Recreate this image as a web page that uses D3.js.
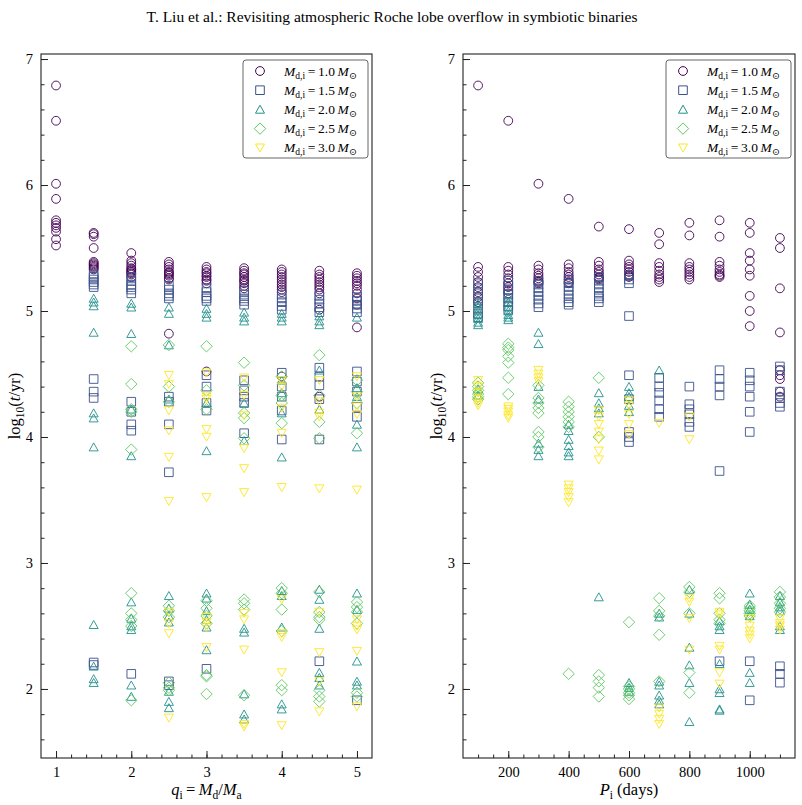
<!DOCTYPE html>
<html>
<head>
<meta charset="utf-8">
<script src="https://cdn.jsdelivr.net/npm/d3@7"></script>
<style>
  body { margin: 0; background: #fff; }
  svg { display: block; }
  text { font-family: "Liberation Serif", "Times New Roman", "DejaVu Serif", serif; fill: #000; }
</style>
</head>
<body>
<svg id="chart" width="802" height="805"></svg>
<script>
// ---- data ----
const qValues = [1, 1.5, 2, 2.5, 3, 3.5, 4, 4.5, 5];
const periods = [100, 200, 300, 400, 500, 600, 700, 800, 900, 1000, 1100];
const massLabels = ["1.0", "1.5", "2.0", "2.5", "3.0"];

// left panel: log10(t/yr) for each q_i, one array per donor mass
const qM10 = [
  [6.79, 6.51, 6.01, 5.89, 5.72, 5.70, 5.68, 5.66, 5.63, 5.57, 5.52],
  [5.62, 5.61, 5.59, 5.50, 5.39, 5.38, 5.37, 5.36, 5.35, 5.34, 5.33],
  [5.46, 5.40, 5.38, 5.36, 5.34, 5.33, 5.32, 5.31, 5.30, 5.29, 5.27],
  [5.39, 5.37, 5.35, 5.33, 5.31, 5.30, 5.29, 5.28, 5.26, 5.25, 4.82],
  [5.35, 5.33, 5.31, 5.30, 5.28, 5.27, 5.25, 5.24, 5.22, 4.52],
  [5.34, 5.32, 5.30, 5.29, 5.27, 5.25, 5.24, 5.22, 5.20, 5.18],
  [5.33, 5.31, 5.29, 5.27, 5.25, 5.23, 5.21, 5.19, 5.17, 5.15, 4.48],
  [5.32, 5.29, 5.27, 5.25, 5.23, 5.21, 5.19, 5.17, 5.14, 5.01, 4.32],
  [5.30, 5.28, 5.26, 5.24, 5.22, 5.20, 5.17, 5.14, 5.10, 5.05, 4.87]
];
const qM15 = [
  [],
  [5.29, 5.27, 5.25, 5.23, 5.21, 5.19, 4.46, 4.36, 4.31, 2.21, 2.19],
  [5.27, 5.24, 5.21, 5.19, 5.17, 5.14, 4.28, 4.20, 4.10, 4.05, 2.12],
  [5.20, 5.17, 5.14, 5.12, 5.10, 4.32, 4.28, 4.10, 3.72, 2.06, 2.03],
  [5.18, 5.15, 5.12, 5.10, 5.08, 4.49, 4.40, 4.27, 4.21, 2.16],
  [5.16, 5.13, 5.10, 5.08, 5.05, 4.45, 4.37, 4.32, 4.27, 4.03],
  [5.13, 5.10, 5.07, 5.04, 5.01, 4.51, 4.40, 4.32, 4.21, 3.98],
  [5.12, 5.09, 5.06, 5.03, 4.99, 4.55, 4.48, 4.41, 4.30, 3.98, 2.22],
  [5.11, 5.08, 5.05, 5.02, 4.99, 4.52, 4.44, 4.36, 4.24, 4.16, 1.91]
];
const qM20 = [
  [],
  [5.10, 5.07, 5.04, 4.83, 4.19, 4.15, 3.92, 2.51, 2.18, 2.08, 2.05],
  [5.06, 5.03, 4.82, 4.22, 3.85, 2.69, 2.56, 2.50, 2.47, 2.03, 1.94],
  [5.03, 4.98, 4.73, 4.30, 2.74, 2.64, 2.58, 2.53, 1.98, 1.90, 1.85],
  [5.02, 4.98, 4.95, 4.27, 3.89, 2.76, 2.72, 2.62, 2.55, 2.49, 2.31],
  [4.99, 4.95, 4.92, 4.27, 3.97, 2.48, 2.45, 1.96, 1.80, 1.76],
  [4.98, 4.95, 4.92, 4.45, 4.35, 4.19, 3.84, 2.78, 2.74, 2.49, 1.88, 1.84],
  [4.96, 4.92, 4.89, 4.53, 4.22, 2.79, 2.71, 2.48, 2.13, 2.09, 2.03],
  [4.95, 4.39, 4.32, 4.10, 3.92, 2.76, 2.63, 2.22, 2.06, 2.03]
];
const qM25 = [
  [],
  [],
  [4.72, 4.42, 4.22, 4.20, 3.90, 2.76, 2.60, 2.55, 2.50, 1.91],
  [4.73, 4.40, 4.28, 2.66, 2.62, 2.57, 2.05, 2.01, 1.99],
  [4.72, 4.37, 4.22, 2.70, 2.64, 2.58, 2.52, 2.11, 2.10, 1.96],
  [4.59, 4.41, 4.19, 4.15, 3.99, 2.71, 2.68, 2.63, 1.95],
  [4.48, 4.33, 4.27, 4.11, 2.80, 2.76, 2.63, 2.46, 2.03, 1.99],
  [4.65, 4.33, 4.12, 3.99, 2.77, 2.61, 2.57, 2.55, 1.99, 1.94, 1.90],
  [4.45, 4.36, 4.27, 4.03, 2.69, 2.65, 2.61, 2.52, 1.97, 1.94]
];
const qM30 = [
  [],
  [],
  [],
  [4.49, 4.42, 4.21, 4.05, 3.84, 3.49, 2.61, 2.52, 2.44, 1.77],
  [4.51, 4.32, 4.30, 4.06, 4.00, 3.52, 2.57, 2.53, 2.49, 2.33],
  [4.47, 4.33, 4.17, 3.91, 3.75, 3.56, 2.60, 2.55, 2.31, 1.72, 1.70],
  [4.45, 4.40, 4.23, 4.03, 3.60, 2.71, 2.44, 2.41, 2.13, 1.71],
  [4.45, 4.28, 4.19, 4.16, 3.59, 2.61, 2.29, 2.06, 1.82],
  [4.48, 4.32, 4.24, 4.18, 3.58, 2.55, 2.50, 2.47, 2.30, 1.86]
];

// right panel: log10(t/yr) for each P_i
const pM10 = [
  [6.79, 5.35, 5.31, 5.27, 5.23, 5.19, 5.15, 5.11, 5.07],
  [6.51, 5.35, 5.32, 5.29, 5.26, 5.22, 5.19, 5.16, 5.14],
  [6.01, 5.36, 5.33, 5.30, 5.28, 5.26, 5.24, 5.23, 5.22],
  [5.89, 5.37, 5.34, 5.31, 5.29, 5.27, 5.25, 5.23, 5.22],
  [5.67, 5.39, 5.36, 5.33, 5.31, 5.29, 5.27, 5.26, 5.25],
  [5.65, 5.40, 5.37, 5.35, 5.33, 5.31, 5.29, 5.28, 5.27],
  [5.62, 5.53, 5.38, 5.35, 5.32, 5.29, 5.27, 5.25, 5.23],
  [5.70, 5.60, 5.38, 5.35, 5.33, 5.31, 5.29, 5.27, 5.25],
  [5.72, 5.59, 5.39, 5.36, 5.33, 5.31, 5.29, 5.28, 5.27],
  [5.70, 5.62, 5.46, 5.40, 5.33, 5.28, 5.12, 5.00, 4.88],
  [5.58, 5.50, 5.18, 4.83, 4.53, 4.49, 4.46, 4.36, 4.32]
];
const pM15 = [
  [5.22, 5.18, 5.14, 5.10, 5.06, 5.02, 4.98, 4.95],
  [5.24, 5.20, 5.17, 5.13, 5.10, 5.07, 5.04, 5.01],
  [5.24, 5.21, 5.18, 5.15, 5.12, 5.09, 5.06, 5.03],
  [5.25, 5.22, 5.19, 5.16, 5.13, 5.10, 5.07, 5.05],
  [5.27, 5.24, 5.21, 5.18, 5.15, 5.12, 5.10, 5.07],
  [5.28, 5.25, 5.22, 4.96, 4.49, 4.30, 4.04, 4.00, 3.96],
  [4.47, 4.40, 4.35, 4.29, 4.22, 4.16],
  [4.40, 4.26, 4.22, 4.18, 4.12, 4.08],
  [4.53, 4.46, 4.40, 4.33, 3.73, 2.22],
  [4.51, 4.45, 4.40, 4.32, 4.20, 4.04, 2.22, 1.91],
  [4.56, 4.53, 4.36, 4.31, 4.27, 4.24, 2.18, 2.12, 2.05]
];
const pM20 = [
  [5.06, 5.03, 5.00, 4.97, 4.94, 4.91, 4.89, 4.38, 4.33],
  [5.11, 5.07, 5.03, 5.00, 4.97, 4.95, 4.93],
  [4.83, 4.74, 4.40, 4.30, 3.95, 3.90, 3.85],
  [4.10, 4.05, 3.98, 3.93, 3.88, 3.85],
  [4.35, 4.27, 4.23, 4.19, 2.73],
  [4.40, 4.35, 4.32, 4.25, 4.20, 2.05, 2.01, 1.98],
  [4.53, 2.60, 2.57, 2.06, 2.03, 1.95, 1.91, 1.88],
  [2.79, 2.60, 2.33, 2.19, 2.05, 1.74],
  [2.54, 2.50, 2.47, 2.20, 2.00, 1.97, 1.84, 1.83],
  [2.76, 2.67, 2.63, 2.58, 2.13, 2.05],
  [2.74, 2.69, 2.65, 2.62, 2.50, 2.47]
];
const pM25 = [
  [4.43, 4.40, 4.37, 4.34, 4.32, 4.30],
  [4.74, 4.71, 4.69, 4.64, 4.59, 4.47, 4.34],
  [4.41, 4.31, 4.27, 4.23, 4.19, 4.04, 4.00, 3.92],
  [4.28, 4.24, 4.20, 4.16, 4.12, 4.08, 2.12],
  [4.47, 4.00, 2.11, 2.06, 2.01, 1.94],
  [2.53, 2.02, 2.00, 1.97, 1.95, 1.92],
  [2.72, 2.62, 2.58, 2.43, 2.06],
  [2.81, 2.77, 2.60, 2.13, 1.97],
  [2.76, 2.72, 2.60, 2.55, 2.52],
  [2.66, 2.64, 2.62, 2.60, 2.58],
  [2.77, 2.73, 2.68, 2.64, 2.61]
];
const pM30 = [
  [4.45, 4.40, 4.35, 4.30, 4.27, 4.25],
  [4.24, 4.22, 4.20, 4.17, 4.15],
  [4.53, 4.50, 4.47, 4.44],
  [3.62, 3.59, 3.56, 3.52, 3.48],
  [4.21, 4.16, 4.10, 4.04, 3.98, 3.89, 3.82],
  [4.29, 4.25, 4.18, 4.10, 4.02],
  [4.11, 1.85, 1.80, 1.76, 1.72],
  [4.16, 3.98, 2.72, 2.69, 2.56, 2.31],
  [2.61, 2.59, 2.34, 2.31, 2.13, 2.04],
  [2.56, 2.50, 2.46, 2.43, 2.40],
  [2.56, 2.52, 2.50, 2.47]
];

// ---- styling ----
const colors = ['#440154', '#3b528b', '#21918c', '#5ec962', '#fde725'];
const serif = '"Liberation Serif", "Times New Roman", serif';
const svg = d3.select('#chart');
const plotTop = 54, plotBottom = 758;

// marker shapes like matplotlib o, s, ^, D, v
function markerPath(k) {
  if (k === 0) {
    const p = d3.path();
    p.arc(0, 0, 4.4, 0, 2 * Math.PI);
    return p.toString();
  }
  if (k === 1) return 'M-4.3,-4.3H4.3V4.3H-4.3Z';
  if (k === 2) return 'M0,-4.2L4.5,3.8L-4.5,3.8Z';
  if (k === 3) return 'M0,-5.7L5.7,0L0,5.7L-5.7,0Z';
  return 'M0,4.2L4.5,-3.8L-4.5,-3.8Z';
}

const yScale = d3.scaleLinear().domain([1.452, 7.04]).range([plotBottom, plotTop]);

function flatten(xs, series) {
  const pts = [];
  series.forEach((arr, m) => {
    arr.forEach((ys, i) => ys.forEach(y => pts.push({ x: xs[i], y: y, m: m })));
  });
  return pts;
}

function drawPanel(opts) {
  const x = d3.scaleLinear().domain(opts.domain).range([opts.left, opts.right]);
  const g = svg.append('g');

  // points
  g.selectAll('path.pt')
    .data(flatten(opts.xs, opts.series))
    .enter()
    .append('path')
    .attr('class', 'pt')
    .attr('d', d => markerPath(d.m))
    .attr('transform', d => `translate(${x(d.x)},${yScale(d.y)})`)
    .attr('fill', 'none')
    .attr('stroke', d => colors[d.m])
    .attr('stroke-opacity', 0.9)
    .attr('stroke-width', 1);

  // y axis, ticks pointing inwards
  g.append('g')
    .attr('transform', `translate(${opts.left},0)`)
    .call(d3.axisLeft(yScale).tickValues(d3.range(1.6, 7.01, 0.2)).tickSize(-3.5).tickFormat(''))
    .call(a => a.select('.domain').remove());
  g.append('g')
    .attr('transform', `translate(${opts.left},0)`)
    .call(d3.axisLeft(yScale).tickValues([2, 3, 4, 5, 6, 7]).tickSize(-7).tickPadding(8).tickFormat(d3.format('d')))
    .call(a => a.select('.domain').remove())
    .call(a => a.selectAll('text').style('font-size', '14.5px').style('font-family', serif));

  // x axis
  g.append('g')
    .attr('transform', `translate(0,${plotBottom})`)
    .call(d3.axisBottom(x).tickValues(opts.minor).tickSize(-3.5).tickFormat(''))
    .call(a => a.select('.domain').remove());
  g.append('g')
    .attr('transform', `translate(0,${plotBottom})`)
    .call(d3.axisBottom(x).tickValues(opts.major).tickSize(-7).tickPadding(9).tickFormat(d3.format('d')))
    .call(a => a.select('.domain').remove())
    .call(a => a.selectAll('text').style('font-size', '14.5px').style('font-family', serif));

  g.selectAll('.tick line').attr('stroke', '#222');

  // frame
  g.append('rect')
    .attr('x', opts.left).attr('y', plotTop)
    .attr('width', opts.right - opts.left).attr('height', plotBottom - plotTop)
    .attr('fill', 'none').attr('stroke', '#222').attr('stroke-width', 1.1);

  // y label: log10(t/yr)
  const yl = g.append('text')
    .attr('transform', `translate(${opts.left - 21},${(plotTop + plotBottom) / 2}) rotate(-90)`)
    .attr('text-anchor', 'middle')
    .style('font-size', '16.5px');
  yl.append('tspan').text('log');
  yl.append('tspan').attr('dy', 4).style('font-size', '11.5px').text('10');
  yl.append('tspan').attr('dy', -4).text('(');
  yl.append('tspan').style('font-style', 'italic').text('t');
  yl.append('tspan').text('/yr)');

  // x label
  const xl = g.append('text')
    .attr('x', (opts.left + opts.right) / 2)
    .attr('y', 795)
    .attr('text-anchor', 'middle')
    .style('font-size', '16.5px');
  opts.xlabel(xl);

  // legend
  const lg = g.append('g').attr('transform', `translate(${opts.right - 129},60)`);
  lg.append('rect')
    .attr('width', 125).attr('height', 98).attr('rx', 3)
    .attr('fill', '#fff').attr('fill-opacity', 0.8)
    .attr('stroke', '#666').attr('stroke-width', 1);
  massLabels.forEach((lab, i) => {
    const row = lg.append('g').attr('transform', `translate(0,${11 + i * 19.2})`);
    row.append('path')
      .attr('d', markerPath(i))
      .attr('transform', 'translate(17,0)')
      .attr('fill', 'none').attr('stroke', colors[i]).attr('stroke-width', 1);
    const t = row.append('text').attr('x', 41).attr('y', 4.5).style('font-size', '13.5px');
    t.append('tspan').style('font-style', 'italic').text('M');
    t.append('tspan').attr('dy', 3).style('font-size', '9.5px').text('d,i');
    t.append('tspan').attr('dy', -3).text('\u2009=\u20091.0'.replace('1.0', lab));
    t.append('tspan').style('font-style', 'italic').text('\u2009M');
    t.append('tspan').attr('dy', 3).style('font-size', '9.5px').text('\u2299');
  });
}

// title
svg.append('text')
  .attr('x', 392).attr('y', 22)
  .attr('text-anchor', 'middle')
  .style('font-size', '15.5px')
  .text('T. Liu et al.: Revisiting atmospheric Roche lobe overflow in symbiotic binaries');

drawPanel({
  left: 41, right: 372, domain: [0.8, 5.2],
  xs: qValues, series: [qM10, qM15, qM20, qM25, qM30],
  major: [1, 2, 3, 4, 5], minor: d3.range(1, 5.01, 0.2),
  xlabel: t => {
    t.append('tspan').style('font-style', 'italic').text('q');
    t.append('tspan').attr('dy', 4).style('font-size', '11.5px').text('i');
    t.append('tspan').attr('dy', -4).text('\u2009=\u2009');
    t.append('tspan').style('font-style', 'italic').text('M');
    t.append('tspan').attr('dy', 4).style('font-size', '11.5px').text('d');
    t.append('tspan').attr('dy', -4).text('/');
    t.append('tspan').style('font-style', 'italic').text('M');
    t.append('tspan').attr('dy', 4).style('font-size', '11.5px').text('a');
  }
});

drawPanel({
  left: 463, right: 795, domain: [50, 1150],
  xs: periods, series: [pM10, pM15, pM20, pM25, pM30],
  major: [200, 400, 600, 800, 1000], minor: d3.range(100, 1101, 50),
  xlabel: t => {
    t.append('tspan').style('font-style', 'italic').text('P');
    t.append('tspan').attr('dy', 4).style('font-size', '11.5px').text('i');
    t.append('tspan').attr('dy', -4).text(' (days)');
  }
});
</script>
</body>
</html>
